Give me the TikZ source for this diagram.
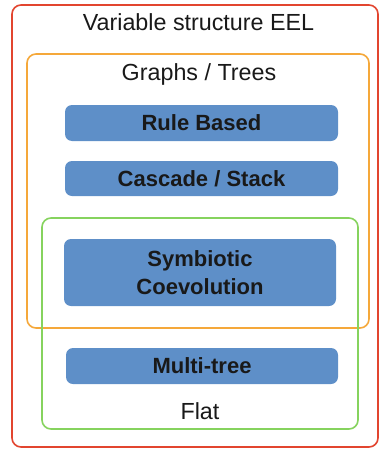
\documentclass[tikz,border=0pt]{standalone}
\usepackage{fontspec}
\setmainfont{Liberation Sans}
\definecolor{cred}{HTML}{E2452F}
\definecolor{corange}{HTML}{F5A83A}
\definecolor{cgreen}{HTML}{86D35E}
\definecolor{cblue}{HTML}{5E8FC8}
\begin{document}
\begin{tikzpicture}[x=1pt,y=-1pt,
  frame/.style={draw=#1, line width=1.6pt, rounded corners=9pt},
  bluebox/.style={fill=cblue, rounded corners=7pt, font=\fontsize{22}{27.5}\selectfont\bfseries, text=black!90, align=center, inner sep=0pt},
  lbl/.style={font=\fontsize{23.3}{27}\selectfont, text=black!90, inner sep=0pt}]
\useasboundingbox (0,0) rectangle (380,450);
\draw[frame=cred] (12,5) rectangle (378,447);
\draw[frame=corange] (27,54) rectangle (369,328);
\draw[frame=cgreen] (42,218) rectangle (358,429);
\node[lbl] (title) at (198.5,22) {Variable structure EEL};
\node[lbl] (graphs) at (199,74) {Graphs / Trees};
\node[bluebox, minimum width=273pt, minimum height=36pt] (rule) at (201.5,123) {Rule Based};
\node[bluebox, minimum width=273pt, minimum height=35pt] (cascade) at (201.5,178.5) {Cascade / Stack};
\node[bluebox, minimum width=272pt, minimum height=67pt] (symb) at (200,272.5) {Symbiotic\\Coevolution};
\node[bluebox, minimum width=272pt, minimum height=36pt] (multi) at (202,366) {Multi-tree};
\node[lbl] (flat) at (200,411) {Flat};
\end{tikzpicture}
\end{document}
